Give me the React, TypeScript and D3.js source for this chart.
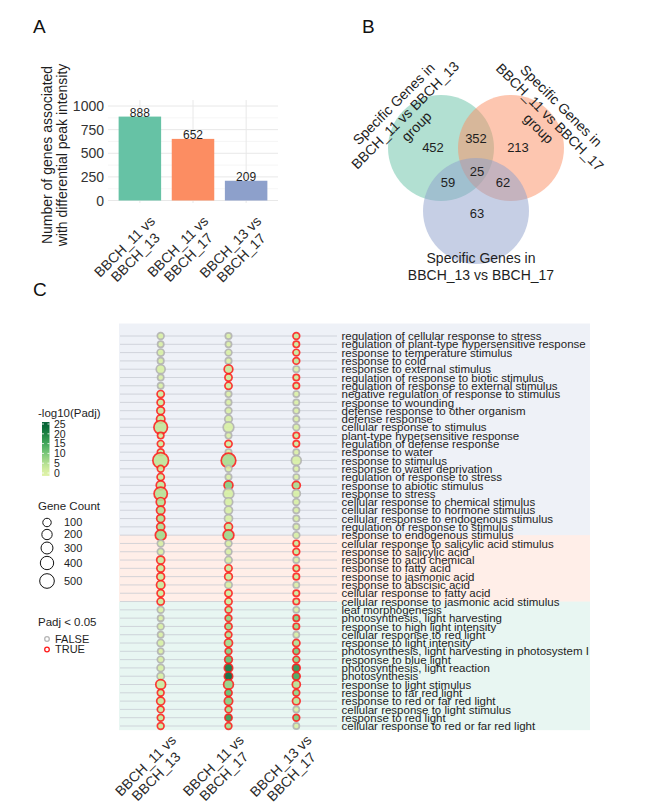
import React from "react";
import * as d3 from "d3";

const FONT = "'Liberation Sans', Arial, Helvetica, sans-serif";

// ---------- Panel A data ----------
const comparisons = ["BBCH_11 vs BBCH_13", "BBCH_11 vs BBCH_17", "BBCH_13 vs BBCH_17"];
const geneNumbers = [888, 652, 209];
const set2 = ["#66C2A5", "#FC8D62", "#8DA0CB"];
const yTicksA = [0, 250, 500, 750, 1000];

// ---------- Panel B data ----------
const vennSetLabels = [
  ["Specific Genes in", "BBCH_11 vs BBCH_13", "group"],
  ["Specific Genes in", "BBCH_11 vs BBCH_17", "group"],
  ["Specific Genes in", "BBCH_13 vs BBCH_17"],
];
const vennRegions = ["A", "AB", "B", "ABC", "AC", "BC", "C"];
const vennCounts = [452, 352, 213, 25, 59, 62, 63];

// ---------- Panel C data ----------
const goTerms = [
  "regulation of cellular response to stress",
  "regulation of plant-type hypersensitive response",
  "response to temperature stimulus",
  "response to cold",
  "response to external stimulus",
  "regulation of response to biotic stimulus",
  "regulation of response to external stimulus",
  "negative regulation of response to stimulus",
  "response to wounding",
  "defense response to other organism",
  "defense response",
  "cellular response to stimulus",
  "plant-type hypersensitive response",
  "regulation of defense response",
  "response to water",
  "response to stimulus",
  "response to water deprivation",
  "regulation of response to stress",
  "response to abiotic stimulus",
  "response to stress",
  "cellular response to chemical stimulus",
  "cellular response to hormone stimulus",
  "cellular response to endogenous stimulus",
  "regulation of response to stimulus",
  "response to endogenous stimulus",
  "cellular response to salicylic acid stimulus",
  "response to salicylic acid",
  "response to acid chemical",
  "response to fatty acid",
  "response to jasmonic acid",
  "response to abscisic acid",
  "cellular response to fatty acid",
  "cellular response to jasmonic acid stimulus",
  "leaf morphogenesis",
  "photosynthesis, light harvesting",
  "response to high light intensity",
  "cellular response to red light",
  "response to light intensity",
  "photosynthesis, light harvesting in photosystem I",
  "response to blue light",
  "photosynthesis, light reaction",
  "photosynthesis",
  "response to light stimulus",
  "response to far red light",
  "response to red or far red light",
  "cellular response to light stimulus",
  "response to red light",
  "cellular response to red or far red light",
];
const groupSizes = [25, 8, 15];
const groupColors = ["#8DA0CB", "#FC8D62", "#66C2A5"];

const count11_13 = [25, 8, 44, 13, 122, 8, 8, 44, 44, 65, 96, 417, 13, 25, 25, 590, 25, 44, 122, 390, 122, 96, 80, 80, 223,
  25, 25, 80, 65, 65, 96, 44, 44,
  25, 6, 25, 8, 44, 5, 25, 44, 44, 170, 25, 80, 25, 25, 25];
const count11_17 = [13, 5, 25, 13, 110, 44, 44, 13, 13, 25, 58, 220, 13, 44, 13, 500, 25, 13, 122, 223, 96, 80, 80, 80, 223,
  25, 25, 44, 44, 65, 44, 44, 44,
  25, 25, 44, 25, 80, 25, 65, 96, 96, 170, 44, 96, 25, 44, 25];
const count13_17 = [25, 13, 25, 25, 13, 13, 13, 5, 5, 8, 8, 25, 13, 13, 8, 170, 5, 5, 80, 80, 25, 13, 13, 13, 25,
  13, 25, 8, 13, 13, 5, 13, 13,
  5, 13, 13, 5, 44, 25, 25, 65, 65, 80, 25, 65, 5, 25, 5];

const sig11_13 = [0, 0, 0, 0, 0, 0, 0, 1, 1, 1, 1, 1, 1, 1, 1, 1, 1, 1, 1, 1, 1, 1, 1, 1, 1,
  0, 0, 1, 1, 1, 1, 1, 1,
  0, 0, 0, 0, 0, 0, 0, 0, 0, 1, 1, 1, 1, 1, 1];
const sig11_17 = [0, 0, 0, 0, 1, 1, 1, 0, 0, 0, 0, 0, 0, 1, 0, 1, 0, 0, 1, 0, 0, 0, 0, 1, 1,
  0, 0, 0, 1, 1, 0, 1, 1,
  1, 1, 1, 1, 1, 1, 1, 1, 1, 1, 1, 1, 1, 1, 1];
const sig13_17 = [1, 1, 1, 1, 0, 1, 1, 0, 0, 0, 0, 0, 1, 1, 0, 0, 0, 0, 1, 0, 0, 0, 0, 0, 0,
  1, 1, 0, 1, 1, 0, 1, 1,
  0, 1, 1, 0, 1, 1, 1, 1, 1, 1, 1, 1, 0, 1, 0];

const logp11_13 = [0.9, 0.8, 1.0, 0.9, 1.1, 0.8, 0.9, 2.2, 2.4, 2.6, 2.8, 3.5, 2.0, 2.2, 2.3, 3.8, 2.1, 2.6, 3.4, 4.5, 4.6, 4.8, 5.0, 5.5, 6.5,
  0.9, 1.0, 2.6, 2.4, 2.5, 2.8, 2.3, 2.4,
  0.8, 0.7, 0.9, 0.7, 1.0, 0.6, 0.9, 1.0, 1.1, 2.5, 3.0, 2.8, 2.6, 3.0, 2.7];
const logp11_17 = [0.7, 0.6, 0.8, 0.7, 2.6, 2.2, 2.1, 0.6, 0.7, 0.8, 1.0, 1.1, 0.7, 2.0, 0.9, 6.0, 0.8, 0.9, 9.0, 1.2, 1.1, 1.0, 1.0, 3.5, 7.0,
  0.9, 0.8, 1.0, 2.3, 2.5, 1.1, 2.4, 2.4,
  4.0, 8.0, 7.0, 5.0, 6.5, 9.0, 12.0, 22.0, 24.0, 8.0, 12.0, 9.0, 6.0, 17.0, 6.5];
const logp13_17 = [2.8, 2.4, 2.6, 3.5, 0.8, 2.3, 2.2, 0.5, 0.5, 0.6, 0.6, 0.9, 2.1, 2.2, 0.7, 1.1, 0.5, 0.6, 6.0, 1.2, 0.9, 0.8, 0.8, 0.8, 1.0,
  2.6, 3.0, 0.8, 2.4, 2.5, 0.6, 2.4, 2.5,
  0.8, 9.0, 7.0, 0.9, 5.0, 10.0, 8.0, 18.0, 15.0, 4.5, 8.0, 4.0, 0.9, 10.0, 0.9];

const colorTicks = [0, 5, 10, 15, 20, 25];
const sizeBreaks = [100, 200, 300, 400, 500];
const sigLevels = ["FALSE", "TRUE"];

const TXT = "#1e1e1e";

function splitComp(c: string): [string, string] {
  const p = c.split(" vs ");
  return [p[0] + " vs", p[1]];
}

let measureCtx: CanvasRenderingContext2D | null = null;
function textWidth(s: string, size: number): number {
  try {
    if (!measureCtx) measureCtx = document.createElement("canvas").getContext("2d");
    if (measureCtx) {
      measureCtx.font = `${size}px "Liberation Sans", Arial, sans-serif`;
      return measureCtx.measureText(s).width;
    }
  } catch (e) { /* ignore */ }
  return s.length * size * 0.56;
}

// two-line rotated label, lines centered on each other, block right-aligned at anchor
function RotLabel({ x, y, text, size }: { x: number; y: number; text: string; size: number }) {
  const [l1, l2] = splitComp(text);
  const w = Math.max(textWidth(l1, size), textWidth(l2, size));
  return (
    <g transform={`translate(${x},${y}) rotate(-45)`}>
      <text x={-w / 2} y={size * 0.72} fontSize={size} textAnchor="middle" fill="#2a2a2a">{l1}</text>
      <text x={-w / 2} y={size * 0.72 + size * 1.08} fontSize={size} textAnchor="middle" fill="#2a2a2a">{l2}</text>
    </g>
  );
}

export default function App() {
  // ----- Panel A -----
  const yA = d3.scaleLinear().domain([0, 1000]).range([200.5, 106]);
  const xA = d3.scaleLinear().domain([0.4, 3.6]).range([108, 278]);
  const unitA = xA(2) - xA(1);
  const topA = yA(1063);
  const botA = yA(-26);
  const minorA = d3.pairs(yTicksA).map(([a, b]) => (a + b) / 2);

  // ----- Panel C -----
  const yC = d3.scalePoint<string>().domain(goTerms).range([336, 726]).padding(0);
  const stepC = yC.step();
  const xC = d3.scaleLinear().domain([0.4, 3.6]).range([120, 337]);
  const rC = d3.scaleRadial().domain([0, 600]).range([3.0, 7.9]);
  const colC = (v: number) => d3.interpolateYlGn(0.22 + 0.68 * Math.max(0, Math.min(v, 25)) / 25);
  const nRows = goTerms.length;
  const rowPix = (p: number) => yC(goTerms[nRows - 1])! - (p - 1) * stepC; // p: 1 = bottom row
  const gB = groupSizes[2], gP = groupSizes[1], gT = groupSizes[0];
  const bandEdges = [
    { g: 2, lo: 0.5, hi: gB + 1 },
    { g: 1, lo: gB + 1, hi: gB + gP + 1 },
    { g: 0, lo: gB + gP + 1, hi: gB + gP + gT + 1.5 },
  ];
  const columns = [
    { counts: count11_13, sig: sig11_13, logp: logp11_13 },
    { counts: count11_17, sig: sig11_17, logp: logp11_17 },
    { counts: count13_17, sig: sig13_17, logp: logp13_17 },
  ];

  // legend scales
  const yLeg = d3.scaleLinear().domain([0, 25]).range([473, 424]);
  const sizeLegY = [522.5, 534.5, 548, 563, 581];

  // Venn layout
  const vc = [
    { x: 441, y: 148, r: 53 },
    { x: 511, y: 148, r: 53 },
    { x: 476, y: 211, r: 53 },
  ];
  const regionPos: Record<string, [number, number]> = {
    A: [433, 147], AB: [476, 138], B: [518, 147], ABC: [477, 171],
    AC: [448, 182], BC: [503, 182], C: [477, 213],
  };

  return (
    <svg width={656} height={811} style={{ position: "absolute", left: 0, top: 0, background: "#fff" }}
      fontFamily={FONT}>
      <defs>
        <linearGradient id="cbar" x1="0" y1="1" x2="0" y2="0">
          {d3.range(0, 1.0001, 0.1).map((t) => (
            <stop key={t} offset={t} stopColor={colC(-1.5 + t * 27.5)} />
          ))}
        </linearGradient>
      </defs>

      {/* Panel labels */}
      <text x={33} y={33} fontSize={19} fill="#111">A</text>
      <text x={362} y={33} fontSize={19} fill="#111">B</text>
      <text x={33} y={296} fontSize={19} fill="#111">C</text>

      {/* ===== Panel A ===== */}
      <g>
        {minorA.map((t) => (
          <line key={"mi" + t} x1={108} x2={278} y1={yA(t)} y2={yA(t)} stroke="#f0f0f0" strokeWidth={0.6} />
        ))}
        {yTicksA.map((t) => (
          <line key={"ma" + t} x1={108} x2={278} y1={yA(t)} y2={yA(t)} stroke="#e8e8e8" strokeWidth={1} />
        ))}
        {comparisons.map((c, i) => (
          <line key={"vg" + c} x1={xA(i + 1)} x2={xA(i + 1)} y1={topA} y2={botA} stroke="#e8e8e8" strokeWidth={1} />
        ))}
        {comparisons.map((c, i) => (
          <rect key={"bar" + c} x={xA(i + 1) - 0.4 * unitA} width={0.8 * unitA} y={yA(geneNumbers[i])}
            height={yA(0) - yA(geneNumbers[i])} fill={set2[i]} />
        ))}
        {comparisons.map((c, i) => (
          <text key={"bl" + c} x={xA(i + 1)} y={yA(geneNumbers[i])} fontSize={12} textAnchor="middle" fill={TXT}>
            {geneNumbers[i]}
          </text>
        ))}
        {yTicksA.map((t) => (
          <text key={"yt" + t} x={104} y={yA(t)} dy="0.36em" fontSize={14} textAnchor="end" fill="#333">{t}</text>
        ))}
        <g transform="translate(54.5,155) rotate(-90)">
          <text x={0} y={-7.5} dy="0.36em" fontSize={14} textAnchor="middle" fill={TXT}>Number of genes associated</text>
          <text x={0} y={7.5} dy="0.36em" fontSize={14} textAnchor="middle" fill={TXT}>with differential peak intensity</text>
        </g>
        {comparisons.map((c, i) => (
          <RotLabel key={"xl" + c} x={xA(i + 1) + 9} y={215} text={c} size={14} />
        ))}
      </g>

      {/* ===== Panel B ===== */}
      <g>
        {vc.map((c, i) => (
          <circle key={"vc" + i} cx={c.x} cy={c.y} r={c.r} fill={set2[i]} fillOpacity={0.5} />
        ))}
        {vennRegions.map((k, i) => (
          <text key={"vr" + k} x={regionPos[k][0]} y={regionPos[k][1]} dy="0.36em" fontSize={13}
            textAnchor="middle" fill={TXT}>{vennCounts[i]}</text>
        ))}
        <g transform="translate(405,115) rotate(-45)">
          {vennSetLabels[0].map((s, j) => (
            <text key={s + j} x={0} y={(j - 1) * 16} dy="0.36em" fontSize={14} textAnchor="middle" fill={TXT}>{s}</text>
          ))}
        </g>
        <g transform="translate(550,117) rotate(45)">
          {vennSetLabels[1].map((s, j) => (
            <text key={s + j} x={0} y={(j - 1) * 16} dy="0.36em" fontSize={14} textAnchor="middle" fill={TXT}>{s}</text>
          ))}
        </g>
        {vennSetLabels[2].map((s, j) => (
          <text key={"bl" + j} x={481} y={258 + j * 17} dy="0.36em" fontSize={14} textAnchor="middle" fill={TXT}>{s}</text>
        ))}
      </g>

      {/* ===== Panel C ===== */}
      <g>
        {bandEdges.map((b) => (
          <rect key={"band" + b.g} x={119} width={471} y={rowPix(b.hi)} height={rowPix(b.lo) - rowPix(b.hi)}
            fill={groupColors[b.g]} fillOpacity={0.15} />
        ))}
        {goTerms.map((t) => (
          <line key={"gl" + t} x1={120} x2={337} y1={yC(t)} y2={yC(t)} stroke="#c6c9d2" strokeOpacity={0.75} strokeWidth={1} />
        ))}
        {columns.map((col, ci) =>
          goTerms.map((t, ri) => (
            <circle key={"d" + ci + "-" + ri} cx={xC(ci + 1)} cy={yC(t)} r={rC(col.counts[ri])}
              fill={colC(col.logp[ri])} fillOpacity={0.9}
              stroke={col.sig[ri] ? "#ff1a1a" : "#b3b3b3"} strokeOpacity={col.sig[ri] ? 0.85 : 0.9} strokeWidth={1.7} />
          ))
        )}
        {goTerms.map((t) => (
          <text key={"lab" + t} x={341.5} y={yC(t)} dy="0.36em" fontSize={11.5} fill={TXT}>{t}</text>
        ))}
        {comparisons.map((c, i) => (
          <RotLabel key={"cx" + c} x={xC(i + 1) + 9} y={734} text={c} size={14} />
        ))}
      </g>

      {/* ===== Legends ===== */}
      <g>
        <text x={38} y={417} fontSize={11.5} fill={TXT}>-log10(Padj)</text>
        <rect x={42} y={yLeg(26)} width={7.5} height={yLeg(-1.5) - yLeg(26)} fill="url(#cbar)" />
        {colorTicks.map((v) => (
          <g key={"ct" + v}>
            <line x1={42} x2={44} y1={yLeg(v)} y2={yLeg(v)} stroke="#fff" strokeWidth={0.8} />
            <line x1={47.5} x2={49.5} y1={yLeg(v)} y2={yLeg(v)} stroke="#fff" strokeWidth={0.8} />
            <text x={54} y={yLeg(v)} dy="0.36em" fontSize={10.5} fill={TXT}>{v}</text>
          </g>
        ))}
        <text x={38} y={510} fontSize={11.5} fill={TXT}>Gene Count</text>
        {sizeBreaks.map((s, i) => (
          <g key={"sb" + s}>
            <circle cx={47} cy={sizeLegY[i]} r={rC(s)} fill="none" stroke="#111" strokeWidth={1} />
            <text x={64} y={sizeLegY[i]} dy="0.36em" fontSize={11} fill={TXT}>{s}</text>
          </g>
        ))}
        <text x={38} y={626} fontSize={11.5} fill={TXT}>Padj &lt; 0.05</text>
        {sigLevels.map((s, i) => (
          <g key={"sl" + s}>
            <circle cx={47} cy={639 + i * 10.5} r={2.3} fill="none"
              stroke={s === "TRUE" ? "#ff1a1a" : "#b5b5b5"} strokeWidth={1.3} />
            <text x={55} y={639 + i * 10.5} dy="0.36em" fontSize={11} fill={TXT}>{s}</text>
          </g>
        ))}
      </g>
    </svg>
  );
}
